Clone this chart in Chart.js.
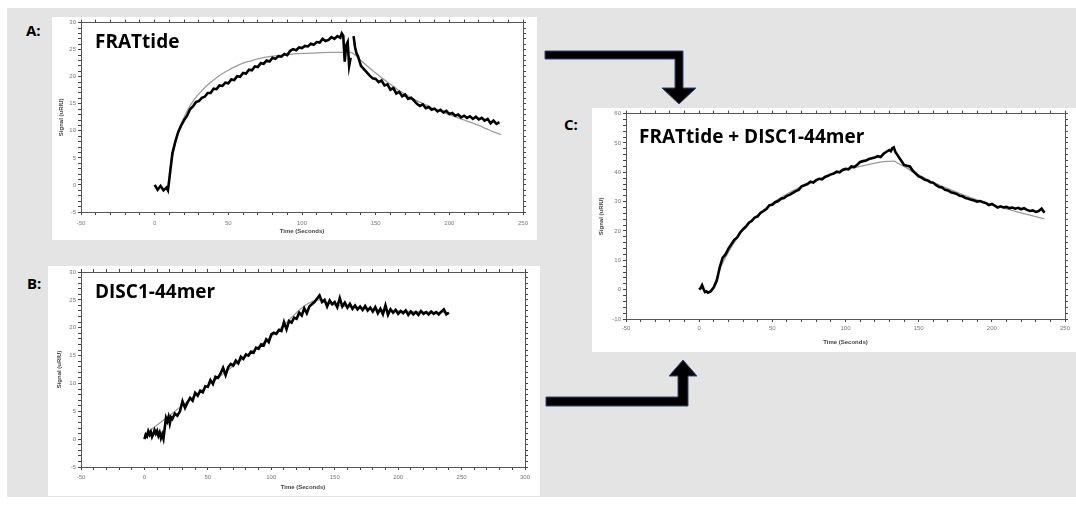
<!DOCTYPE html>
<html>
<head>
<meta charset="utf-8">
<script src="https://cdn.jsdelivr.net/npm/chart.js"></script>
<style>
  body { margin: 0; width: 1076px; height: 505px; background: #fff; position: relative; overflow: hidden; font-family: 'Open Sans', sans-serif; }
  #bg { position: absolute; left: 7px; top: 8px; width: 1069px; height: 489px; background: #e4e4e4; }
  .panel { position: absolute; background: #fff; }
  .panel canvas { display: block; }
  .tag { position: absolute; font-weight: bold; font-size: 15px; line-height: 1; color: #000; }
  .name { position: absolute; font-weight: bold; font-size: 19px; line-height: 1; color: #000; white-space: nowrap; }
  #arrows { position: absolute; left: 0; top: 0; }
</style>
</head>
<body>
<div id="bg"></div>

<div class="panel" style="left:52px; top:17px;"><canvas id="chartA" width="485" height="223"></canvas></div>
<div class="panel" style="left:48px; top:266px;"><canvas id="chartB" width="492" height="230"></canvas></div>
<div class="panel" style="left:592px; top:108px;"><canvas id="chartC" width="484" height="244"></canvas></div>

<div class="tag" style="left:26px; top:23px;">A:</div>
<div class="tag" style="left:27px; top:276px;">B:</div>
<div class="tag" style="left:564px; top:117px;">C:</div>

<div class="name" style="left:95px; top:32px;">FRATtide</div>
<div class="name" style="left:95px; top:282px;">DISC1-44mer</div>
<div class="name" style="left:639px; top:127px;">FRATtide + DISC1-44mer</div>

<svg id="arrows" width="1076" height="505">
  <polygon points="545,51 683,51 683,88 696,88 679,104 662,88 675,88 675,59 545,59" fill="#000" stroke="#2e4a7a" stroke-width="1"/>
  <polygon points="546,397 678,397 678,376 669,376 683,360 697,376 688,376 688,406 546,406" fill="#000" stroke="#2e4a7a" stroke-width="1"/>
</svg>

<script>
// ---- A: FRATtide
const timeA = [
  0, 2, 4, 6, 8, 9, 10, 12, 14, 16,
  18, 20, 22, 24, 26, 28, 30, 32, 34, 36,
  38, 40, 42, 44, 46, 48, 50, 52, 54, 56,
  58, 60, 62, 64, 66, 68, 70, 72, 74, 76,
  78, 80, 82, 84, 86, 88, 90, 92, 94, 96,
  98, 100, 102, 104, 106, 108, 110, 112, 114, 116,
  118, 120, 122, 124, 126, 127, 128, 129, 130, 131,
  132, 133, 134, 135, 136, 137, 138, 140, 142, 144,
  146, 148, 150, 152, 154, 156, 158, 160, 162, 164,
  166, 168, 170, 172, 174, 176, 178, 180, 182, 184,
  186, 188, 190, 192, 194, 196, 198, 200, 202, 204,
  206, 208, 210, 212, 214, 216, 218, 220, 222, 224,
  226, 228, 230, 232, 234
];
const signalA = [
  0.0, -0.9, -0.2, -1.0, -0.5, -1.0, 1.2, 5.8, 8.0, 9.8,
  11.0, 12.0, 12.8, 14.0, 14.5, 15.3, 15.5, 16.1, 16.3, 17.0,
  17.0, 17.8, 17.7, 18.4, 18.3, 18.9, 18.8, 19.5, 19.4, 20.1,
  20.0, 20.7, 20.6, 21.3, 21.2, 21.9, 21.8, 22.5, 22.4, 23.0,
  22.8, 23.5, 23.3, 23.8, 23.7, 24.2, 24.0, 24.8, 25.1, 24.9,
  25.4, 25.3, 25.7, 25.6, 26.1, 25.9, 26.4, 26.3, 27.0, 26.6,
  26.8, 27.3, 27.0, 27.5, 27.2, 28.0, 27.6, 22.8, 25.8, 26.4,
  22.0, 23.5, null, 27.5, 25.5, 24.3, 23.8, 22.0, 21.4, 20.8,
  20.2, 19.7, 19.6, 19.0, 19.3, 18.4, 18.6, 17.6, 17.9, 16.9,
  17.2, 16.4, 16.7, 15.9, 16.1, 15.6, 15.0, 14.6, 14.9, 14.2,
  14.4, 13.9, 14.1, 13.6, 13.9, 13.4, 13.7, 13.1, 13.3, 12.8,
  13.0, 12.5, 12.8, 12.4, 12.7, 12.2, 12.6, 12.1, 12.4, 11.9,
  12.2, 11.4, 11.9, 11.3, 11.6
];
const fitTimeA = [10, 12, 14, 16, 18, 20, 24, 28, 32, 36, 40, 45, 50, 55, 60, 65, 70, 80, 90, 100,
  110, 120, 128, 133, 136, 140, 145, 150, 155, 160, 165, 170, 175, 180, 185, 190, 195, 200, 205, 210,
  215, 220, 225, 230, 235];
const fitA = [2.0, 5.0, 7.6, 9.6, 11.2, 12.5, 14.6, 16.2, 17.4, 18.5, 19.4, 20.4, 21.2, 21.9, 22.5, 22.9, 23.3, 23.8, 24.1, 24.3,
  24.4, 24.5, 24.5, 24.5, 24.0, 23.0, 21.8, 20.7, 19.6, 18.6, 17.6, 16.8, 16.0, 15.3, 14.7, 14.0, 13.5, 13.0, 12.5, 12.0,
  11.5, 11.0, 10.4, 9.8, 9.3];
const xTicksA = [-50, 0, 50, 100, 150, 200, 250];
const yTicksA = [-5, 0, 5, 10, 15, 20, 25, 30];

// ---- B: DISC1-44mer
const timeB = [
  0, 1, 2, 3, 4, 5, 6, 7, 8, 9,
  10, 11, 12, 13, 14, 15, 16, 17, 18, 19,
  20, 21, 22, 24, 26, 28, 30, 32, 34, 36,
  38, 40, 42, 44, 46, 48, 50, 52, 54, 56,
  58, 60, 62, 64, 66, 68, 70, 72, 74, 76,
  78, 80, 82, 84, 86, 88, 90, 92, 94, 96,
  98, 100, 102, 104, 106, 108, 110, 112, 114, 116,
  118, 120, 122, 124, 126, 128, 130, 132, 134, 136,
  138, 140, 142, 144, 146, 148, 150, 152, 154, 156,
  158, 160, 162, 164, 166, 168, 170, 172, 174, 176,
  178, 180, 182, 184, 186, 188, 190, 192, 194, 196,
  198, 200, 202, 204, 206, 208, 210, 212, 214, 216,
  218, 220, 222, 224, 226, 228, 230, 232, 234, 236,
  238, 240
];
const signalB = [
  0.0, 0.8, 0.5, 1.4, 0.8, 1.3, 0.4, 0.9, 1.6, 1.0,
  1.5, 0.6, 1.2, 0.2, 0.9, 0.1, 2.0, 3.8, 3.2, 4.0,
  2.8, 3.9, 3.6, 4.6, 4.2, 5.0, 6.8, 5.6, 6.6, 7.4,
  6.9, 8.3, 7.8, 8.7, 8.4, 9.5, 9.4, 10.6, 9.9, 11.2,
  11.0, 11.8, 12.8, 11.5, 12.9, 13.5, 13.2, 14.1, 13.6, 14.8,
  14.4, 15.2, 15.0, 15.7, 15.5, 16.4, 16.2, 17.0, 16.8, 17.9,
  17.4, 18.8, 19.1, 18.9, 19.6, 19.4, 21.0, 19.7, 21.2, 20.9,
  21.8, 21.6, 22.7, 22.2, 23.5, 22.6, 23.8, 24.2, 24.6, 25.2,
  25.8, 24.6, 25.0, 23.8, 24.9, 24.2, 24.6, 23.7, 25.3, 23.8,
  24.5, 23.6, 24.3, 23.4, 24.0, 23.3, 23.8, 23.2, 23.9, 23.1,
  23.6, 22.9, 23.7, 22.6, 23.4, 22.4, 24.0, 22.3, 23.3, 22.7,
  23.2, 22.5, 23.0, 22.6, 23.1, 22.3, 22.9, 22.4, 22.8, 22.3,
  23.0, 22.5, 22.8, 22.4, 22.9, 22.5, 22.8, 22.4, 22.9, 23.3,
  22.4, 22.7
];
const fitTimeB = [0, 20, 50, 100, 138, 142, 150, 170, 200, 240];
const fitB = [0.8, 4.3, 9.6, 18.4, 25.0, 24.6, 24.1, 23.5, 23.0, 22.7];
const xTicksB = [-50, 0, 50, 100, 150, 200, 250, 300];
const yTicksB = [-5, 0, 5, 10, 15, 20, 25, 30];

// ---- C: FRATtide + DISC1-44mer
const timeC = [
  0, 1, 2, 3, 4, 5, 6, 8, 10, 12,
  14, 16, 18, 20, 22, 24, 26, 28, 30, 32,
  34, 36, 38, 40, 42, 44, 46, 48, 50, 52,
  54, 56, 58, 60, 62, 64, 66, 68, 70, 72,
  74, 76, 78, 80, 82, 84, 86, 88, 90, 92,
  94, 96, 98, 100, 102, 104, 106, 108, 110, 112,
  114, 116, 118, 120, 122, 124, 126, 128, 130, 131,
  132, 133, 134, 136, 138, 140, 142, 144, 146, 148,
  150, 152, 154, 156, 158, 160, 162, 164, 166, 168,
  170, 172, 174, 176, 178, 180, 182, 184, 186, 188,
  190, 192, 194, 196, 198, 200, 202, 204, 206, 208,
  210, 212, 214, 216, 218, 220, 222, 224, 226, 228,
  230, 232, 234, 236
];
const signalC = [
  0.0, 0.5, 1.5, 0.2, -0.8, -0.6, -1.0, -0.5, 0.8, 3.0,
  7.5, 10.8, 12.0, 14.0, 15.5, 17.0, 17.8, 19.5, 20.6, 21.5,
  22.8, 23.5, 24.6, 25.0, 26.2, 26.8, 27.5, 28.8, 28.9, 29.8,
  30.2, 31.0, 31.2, 32.0, 32.4, 33.0, 33.6, 34.0, 35.2, 35.6,
  36.0, 36.8, 36.5, 37.3, 37.8, 37.6, 38.4, 38.8, 39.3, 39.6,
  40.2, 40.0, 40.8, 41.2, 41.0, 42.0, 41.8, 42.6, 43.5, 43.8,
  44.0, 44.5, 44.8, 45.0, 45.5, 45.2, 46.3, 47.0, 47.6, 47.2,
  48.2, 48.5, 47.0, 45.5, 44.0, 42.5, 42.2, 42.0, 40.5, 39.6,
  38.6, 38.2, 37.5, 37.2, 36.6, 36.4, 35.6, 35.0, 34.8, 34.0,
  33.8, 33.2, 32.9, 32.6, 32.0, 31.8, 31.2, 31.0, 30.6, 30.4,
  30.0, 30.2, 29.8, 29.5, 28.8, 29.2, 28.6, 28.0, 28.4, 28.0,
  28.2, 27.8, 28.0, 27.6, 27.9, 27.4, 27.8, 27.2, 26.8, 27.0,
  26.5, 26.8, 27.6, 26.2
];
const fitTimeC = [10, 12, 15, 20, 25, 30, 35, 40, 50, 60, 70, 80, 90, 100, 110, 120, 126, 133, 136, 140,
  145, 150, 160, 170, 180, 190, 200, 210, 220, 230, 236];
const fitC = [1.5, 4.0, 8.0, 12.8, 16.8, 20.2, 23.0, 25.4, 29.5, 32.6, 35.2, 37.3, 39.2, 40.7, 42.0, 43.1, 43.6, 43.8, 43.0, 42.0,
  40.5, 39.1, 36.6, 34.4, 32.4, 30.6, 29.0, 27.5, 26.2, 24.9, 24.1];
const xTicksC = [-50, 0, 50, 100, 150, 200, 250];
const yTicksC = [-10, 0, 10, 20, 30, 40, 50, 60];

function pairs(xs, ys) {
  return xs.map(function (x, i) { return { x: x, y: ys[i] }; });
}

function drawPanel(canvasId, data, fit, xTicks, yTicks, minorX, minorY, box) {
  const tickFont = { size: 6, family: 'Liberation Sans' };
  const titleFont = { size: 6, weight: 'bold', family: 'Liberation Sans' };
  const grid = { drawOnChartArea: false, drawTicks: true, tickLength: 3, color: '#444', lineWidth: 1 };
  const border = { display: true, color: '#555', width: 1 };
  const xMin = xTicks[0], xMax = xTicks[xTicks.length - 1];
  const yMin = yTicks[0], yMax = yTicks[yTicks.length - 1];

  new Chart(document.getElementById(canvasId), {
    type: 'line',
    data: {
      datasets: [{
        data: data,
        borderColor: '#000',
        borderWidth: 2.6,
        pointRadius: 0,
        tension: 0,
        spanGaps: false,
        order: 0
      }, {
        data: fit,
        borderColor: '#9c9c9c',
        borderWidth: 1.3,
        pointRadius: 0,
        cubicInterpolationMode: 'monotone',
        order: 1
      }]
    },
    options: {
      responsive: false,
      animation: false,
      events: [],
      layout: { padding: { top: box.top, right: box.right, left: 0, bottom: 0 } },
      plugins: { legend: { display: false }, tooltip: { enabled: false } },
      scales: {
        x: {
          type: 'linear', position: 'bottom', min: xMin, max: xMax,
          afterFit: function (s) { s.height = box.bottom; },
          ticks: {
            stepSize: minorX, autoSkip: false, maxRotation: 0, padding: box.xPad, color: '#777', font: tickFont,
            callback: function (v) { return xTicks.includes(v) ? String(v) : ''; }
          },
          grid: grid, border: border,
          title: { display: true, text: 'Time (Seconds)', color: '#444', font: titleFont, padding: { top: 0, bottom: box.xTitlePad } }
        },
        xTop: {
          type: 'linear', axis: 'x', position: 'top', min: xMin, max: xMax,
          afterFit: function (s) { s.height = 0; },
          ticks: { stepSize: minorX, autoSkip: false, display: false },
          grid: grid, border: border
        },
        y: {
          type: 'linear', position: 'left', min: yMin, max: yMax,
          afterFit: function (s) { s.width = box.left; },
          ticks: {
            stepSize: minorY, autoSkip: false, padding: 2, color: '#777', font: tickFont,
            callback: function (v) { return yTicks.includes(v) ? String(v) : ''; }
          },
          grid: grid, border: border,
          title: { display: true, text: 'Signal (uRIU)', color: '#444', font: titleFont, padding: { top: box.yTitlePad, bottom: 0 } }
        },
        yRight: {
          type: 'linear', axis: 'y', position: 'right', min: yMin, max: yMax,
          afterFit: function (s) { s.width = 0; },
          ticks: { stepSize: minorY, autoSkip: false, display: false },
          grid: grid, border: border
        }
      }
    }
  });
}

drawPanel('chartA', pairs(timeA, signalA), pairs(fitTimeA, fitA), xTicksA, yTicksA, 10, 1,
  { top: 5, right: 14, left: 29, bottom: 28, xPad: 5, xTitlePad: 5, yTitlePad: 6 });
drawPanel('chartB', pairs(timeB, signalB), pairs(fitTimeB, fitB), xTicksB, yTicksB, 10, 1,
  { top: 6, right: 15, left: 33, bottom: 29, xPad: 4, xTitlePad: 5, yTitlePad: 8 });
drawPanel('chartC', pairs(timeC, signalC), pairs(fitTimeC, fitC), xTicksC, yTicksC, 10, 2,
  { top: 4, right: 11, left: 34, bottom: 33, xPad: 3, xTitlePad: 6, yTitlePad: 6 });
</script>
</body>
</html>
